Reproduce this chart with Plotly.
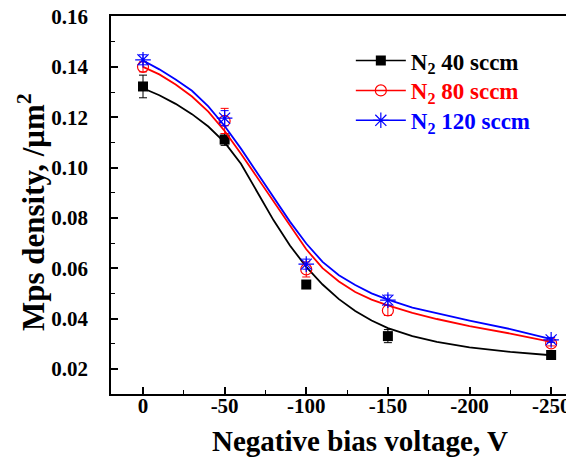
import plotly.graph_objects as go

# ---- data ----
bias = [0, -50, -100, -150, -250]
n40 = [0.1322, 0.1111, 0.0535, 0.0330, 0.0255]
n80 = [0.1400, 0.1185, 0.0595, 0.0432, 0.0301]
n120 = [0.1428, 0.1196, 0.0616, 0.0473, 0.0315]
n40_err = [0.0045, 0.0023, 0.0015, 0.0026, 0.0010]
n80_err = [0.0020, 0.0050, 0.0030, 0.0020, 0.0010]
n120_err = [0.0020, 0.0030, 0.0020, 0.0020, 0.0010]

# fitted curves
fit_x = [0, -10, -20, -30, -40, -50, -60, -70, -80, -90, -100, -110, -120,
         -130, -140, -150, -165, -180, -200, -225, -250]
fit40 = [0.1315, 0.1287, 0.1253, 0.1212, 0.1163, 0.1100, 0.1015, 0.0905,
         0.0790, 0.0690, 0.0605, 0.0535, 0.0477, 0.0430, 0.0392, 0.0362,
         0.0330, 0.0307, 0.0285, 0.0267, 0.0254]
fit80 = [0.1400, 0.1370, 0.1330, 0.1282, 0.1222, 0.1145, 0.1055, 0.0960,
         0.0860, 0.0765, 0.0675, 0.0600, 0.0547, 0.0505, 0.0475, 0.0452,
         0.0422, 0.0398, 0.0370, 0.0340, 0.0307]
fit120 = [0.1425, 0.1390, 0.1350, 0.1305, 0.1243, 0.1165, 0.1075, 0.0978,
          0.0878, 0.0785, 0.0698, 0.0625, 0.0572, 0.0533, 0.0500, 0.0475,
          0.0443, 0.0420, 0.0392, 0.0358, 0.0318]

labels = ["N<sub>2</sub> 40 sccm", "N<sub>2</sub> 80 sccm", "N<sub>2</sub> 120 sccm"]
x_ticks = [0, -50, -100, -150, -200, -250]
y_ticks = [0.02, 0.04, 0.06, 0.08, 0.10, 0.12, 0.14, 0.16]
x_title = "Negative bias voltage, V"
y_title = "Mps density, /μm<sup>2</sup>"

FONT = "Liberation Serif"
series = [
    (n40, n40_err, fit40, "#000000", dict(symbol="square", size=10, color="#000000")),
    (n80, n80_err, fit80, "#FF0000", dict(symbol="circle-open", size=11, color="#FF0000",
                                          line=dict(width=1.2, color="#FF0000"))),
    (n120, n120_err, fit120, "#0000FF", dict(symbol="asterisk-open", size=13, color="#0000FF",
                                             line=dict(width=1.2, color="#0000FF"))),
]

fig = go.Figure()
legend_names = ["legend", "legend2", "legend3"]
for i, (vals, err, fit, col, mk) in enumerate(series):
    fig.add_trace(go.Scatter(x=fit_x, y=fit, mode="lines", line=dict(color=col, width=1.8),
                             showlegend=False, hoverinfo="skip"))
    fig.add_trace(go.Scatter(x=bias, y=vals, mode="markers", marker=mk,
                             error_y=dict(type="data", array=err, visible=True, color=col,
                                          thickness=1, width=4),
                             showlegend=False))
    fig.add_trace(go.Scatter(x=[None], y=[None], mode="lines+markers", name=labels[i],
                             line=dict(color=col, width=1.5), marker=mk,
                             legend=legend_names[i]))

leg_common = dict(xanchor="left", yanchor="middle", bgcolor="rgba(0,0,0,0)",
                  borderwidth=0, itemwidth=50)
LX = 0.518
# the page body adds an 8px margin, so the figure is 8px smaller than the window
fig.update_layout(
    width=566, height=455,
    margin=dict(l=103, r=0, t=8, b=69),
    plot_bgcolor="white", paper_bgcolor="white",
    font=dict(family=FONT, size=20, color="black"),
    legend=dict(x=LX, y=0.882, font=dict(family=FONT, size=23, color="#000000", weight="bold"), **leg_common),
    legend2=dict(x=LX, y=0.803, font=dict(family=FONT, size=23, color="#FF0000", weight="bold"), **leg_common),
    legend3=dict(x=LX, y=0.724, font=dict(family=FONT, size=23, color="#0000FF", weight="bold"), **leg_common),
    xaxis=dict(range=[19.6, -264], tickvals=x_ticks, ticktext=[str(v) for v in x_ticks],
               automargin=False, ticklabeloverflow="allow",
               showline=True, linecolor="black", linewidth=1.5, mirror=True,
               ticks="inside", ticklen=7, tickwidth=1.5, tickcolor="black",
               minor=dict(ticks="inside", ticklen=4, tickwidth=1.2, tickcolor="black", dtick=25, tick0=0),
               showgrid=False, zeroline=False, ticklabelstandoff=-8,
               tickfont=dict(family=FONT, size=21, weight="bold")),
    yaxis=dict(range=[0.01, 0.1602], tickvals=y_ticks, ticktext=["%.2f" % v for v in y_ticks],
               automargin=False, ticklabeloverflow="allow",
               showline=True, linecolor="black", linewidth=1.5, mirror=False,
               ticks="inside", ticklen=7, tickwidth=1.5, tickcolor="black",
               minor=dict(ticks="inside", ticklen=4, tickwidth=1.2, tickcolor="black", dtick=0.01, tick0=0.01),
               showgrid=False, zeroline=False, ticklabelstandoff=17,
               tickfont=dict(family=FONT, size=21, weight="bold")),
    annotations=[
        dict(text=x_title, xref="paper", yref="paper", x=0.538, y=-0.124,
             xanchor="center", yanchor="middle", showarrow=False,
             font=dict(family=FONT, size=29, weight="bold", color="black")),
        dict(text=y_title, xref="paper", yref="paper", x=-0.173, y=0.481, textangle=-90,
             xanchor="center", yanchor="middle", showarrow=False,
             font=dict(family=FONT, size=31, weight="bold", color="black")),
    ],
)

fig.write_html("out.html")
